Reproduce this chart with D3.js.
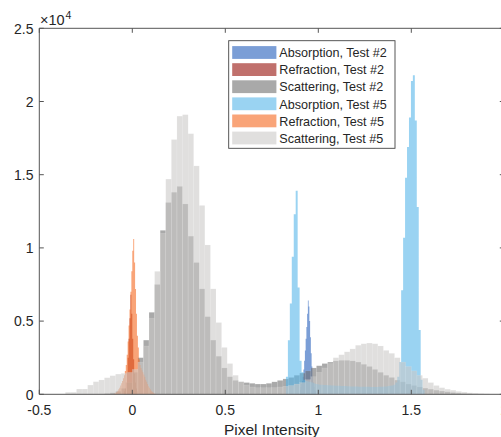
<!DOCTYPE html>
<html><head><meta charset="utf-8">
<script src="https://cdn.jsdelivr.net/npm/d3@7"></script>
<style>
html,body{margin:0;padding:0;background:#fff;}
svg{display:block;}
text{font-family:"Liberation Sans",Arial,Helvetica,sans-serif;fill:#262626;}
</style>
</head><body>
<svg id="chart" width="501" height="437"></svg>
<script>
// ---- data (counts in units of 10^4) ----
const seriesNames = ["Absorption, Test #2","Refraction, Test #2","Scattering, Test #2",
                     "Absorption, Test #5","Refraction, Test #5","Scattering, Test #5"];
const seriesColors = ["#235dbb","#96110a","#707070","#57b6e9","#f5671e","#cbcac8"];
const binStarts = [0.900, -0.045, -0.150, 0.826, -0.100, -0.360];
const binWidths = [0.004, 0.005, 0.030, 0.0105, 0.005, 0.030];

const absorption2 = [0.03,0.05,0.07,0.09,0.12,0.17,0.23,0.30,0.38,0.46,0.55,0.64,0.60,0.50,0.39,0.28,0.19,0.12,0.08,0.05,0.03,0.02];
const refraction2 = [0.02,0.04,0.08,0.15,0.25,0.38,0.52,0.68,0.55,0.38,0.24,0.14,0.08,0.04,0.02];
const scattering2 = [0.005,0.01,0.02,0.04,0.08,0.15,0.25,0.37,0.56,0.75,1.12,1.31,1.38,1.42,1.30,1.08,0.90,0.72,0.53,0.37,
                     0.26,0.18,0.12,0.095,0.085,0.08,0.075,0.07,0.07,0.075,0.085,0.095,0.105,0.115,0.13,0.145,0.16,0.18,0.195,0.21,
                     0.22,0.228,0.232,0.232,0.228,0.22,0.205,0.19,0.17,0.15,0.13,0.115,0.097,0.085,0.07,0.06,0.05,0.042,0.035,0.028,
                     0.022,0.017,0.012,0.008,0.005,0.003];
const absorption5 = [0.12,0.37,0.62,0.94,1.23,1.39,0.73,0.23,0.15,0.10,0.09,0.088,0.085,0.08,0.075,0.07,
                     0.068,0.066,0.065,0.064,0.063,0.062,0.061,0.06,0.06,0.059,0.058,0.058,0.057,0.056,0.056,
                     0.055,0.055,0.054,0.054,0.053,0.053,0.052,0.052,0.052,0.051,0.051,0.051,0.05,0.05,0.05,0.05,
                     0.051,0.051,0.052,0.053,0.054,0.056,0.058,0.06,0.065,0.08,0.12,
                     0.22,0.71,1.07,1.48,1.69,1.89,2.14,2.18,1.87,1.28,0.44,0.10,0.03];
const refraction5 = [0.003,0.006,0.01,0.015,0.025,0.035,0.045,0.06,0.075,0.09,0.11,0.13,0.16,0.20,0.27,0.36,0.47,0.58,0.70,0.84,
                     0.98,1.06,0.90,0.72,0.55,0.40,0.32,0.24,0.20,0.18,0.165,0.15,0.135,0.12,0.10,0.085,0.07,0.055,0.045,0.035,
                     0.025,0.018,0.012,0.008,0.004];
const scattering5 = [0.014,0.014,0.036,0.036,0.063,0.086,0.098,0.113,0.127,0.138,0.143,0.15,0.17,0.22,0.33,0.52,0.84,1.10,1.47,1.74,
                     1.90,1.91,1.78,1.56,1.29,1.02,0.72,0.49,0.32,0.21,0.13,0.086,0.063,0.05,0.045,0.045,0.045,0.046,0.05,0.055,
                     0.06,0.07,0.08,0.10,0.12,0.15,0.18,0.21,0.25,0.27,0.29,0.31,0.335,0.345,0.35,0.345,0.33,0.30,0.28,0.25,
                     0.22,0.19,0.16,0.13,0.11,0.08,0.06,0.045,0.035,0.028,0.02,0.015,0.01,0.008,0.005,0.003];
const seriesCounts = [absorption2, refraction2, scattering2, absorption5, refraction5, scattering5];

const xTicks = [-0.5, 0, 0.5, 1, 1.5, 2];
const yTicks = [0, 0.5, 1, 1.5, 2, 2.5];
const xLabel = "Pixel Intensity";
const faceAlpha = 0.6;

// ---- layout ----
const svg = d3.select("#chart");
const L = 39.3, R = 504.3, T = 28.3, B = 394.3;
const x = d3.scaleLinear().domain([-0.5, 2]).range([L, R]);
const y = d3.scaleLinear().domain([0, 2.5]).range([B, T]);
const axisColor = "#555";

const plot = svg.append("g");

seriesCounts.forEach((counts, i) => {
  const w = binWidths[i], s = binStarts[i];
  const bins = counts.map((c, k) => ({x0: s + k * w, x1: s + (k + 1) * w, c}));
  if (w < 0.02) {
    const pts = bins.map(b => ({x: b.x0, c: b.c}));
    pts.push({x: bins[bins.length - 1].x1, c: 0});
    const area = d3.area().x(d => x(d.x)).y0(y(0)).y1(d => y(d.c)).curve(d3.curveStepAfter);
    plot.append("path").datum(pts).attr("d", area)
      .attr("fill", seriesColors[i]).attr("fill-opacity", faceAlpha).attr("stroke", "none");
  } else {
    plot.append("g").selectAll("rect").data(bins).join("rect")
      .attr("x", b => x(b.x0)).attr("width", b => x(b.x1) - x(b.x0))
      .attr("y", b => y(b.c)).attr("height", b => y(0) - y(b.c))
      .attr("fill", seriesColors[i]).attr("fill-opacity", faceAlpha)
      .attr("stroke", "#fff").attr("stroke-opacity", 0.2).attr("stroke-width", 0.5);
  }
});

// ---- axes box ----
const tl = 4.5;
const ax = svg.append("g").attr("stroke", axisColor).attr("stroke-width", 1).attr("fill", "none");
ax.append("line").attr("x1", L).attr("x2", R).attr("y1", B).attr("y2", B);
ax.append("line").attr("x1", L).attr("x2", R).attr("y1", T).attr("y2", T);
ax.append("line").attr("x1", L).attr("x2", L).attr("y1", T).attr("y2", B);
ax.append("line").attr("x1", R).attr("x2", R).attr("y1", T).attr("y2", B);
xTicks.forEach(t => {
  ax.append("line").attr("x1", x(t)).attr("x2", x(t)).attr("y1", B).attr("y2", B - tl);
  ax.append("line").attr("x1", x(t)).attr("x2", x(t)).attr("y1", T).attr("y2", T + tl);
});
yTicks.forEach(t => {
  ax.append("line").attr("x1", L).attr("x2", L + tl).attr("y1", y(t)).attr("y2", y(t));
  ax.append("line").attr("x1", R).attr("x2", R - tl).attr("y1", y(t)).attr("y2", y(t));
});

const fmt = d => String(d);
svg.append("g").selectAll("text").data(xTicks).join("text")
  .attr("x", d => x(d)).attr("y", 415).attr("text-anchor", "middle")
  .attr("font-size", 14).text(fmt);
svg.append("g").selectAll("text").data(yTicks).join("text")
  .attr("x", 33.5).attr("y", d => y(d) + 5.2).attr("text-anchor", "end")
  .attr("font-size", 14).text(fmt);

svg.append("text").attr("x", 40).attr("y", 25.3).attr("font-size", 14.5).text("×10");
svg.append("text").attr("x", 65.5).attr("y", 18.5).attr("font-size", 10.5).text("4");

svg.append("text").attr("x", (L + R) / 2).attr("y", 435).attr("text-anchor", "middle")
  .attr("font-size", 15.5).text(xLabel);

// ---- legend ----
const lg = svg.append("g");
lg.append("rect").attr("x", 228.7).attr("y", 40.7).attr("width", 166.3).attr("height", 107.6)
  .attr("fill", "#fff").attr("stroke", "#444").attr("stroke-width", 0.9);
seriesNames.forEach((n, i) => {
  const cy = 52.5 + i * 17.1;
  lg.append("rect").attr("x", 232.2).attr("y", cy - 6.4).attr("width", 44.2).attr("height", 12.8)
    .attr("fill", seriesColors[i]).attr("fill-opacity", faceAlpha);
  lg.append("text").attr("x", 279.3).attr("y", cy + 4.7).attr("font-size", 12.6).text(n);
});
</script>
</body></html>
